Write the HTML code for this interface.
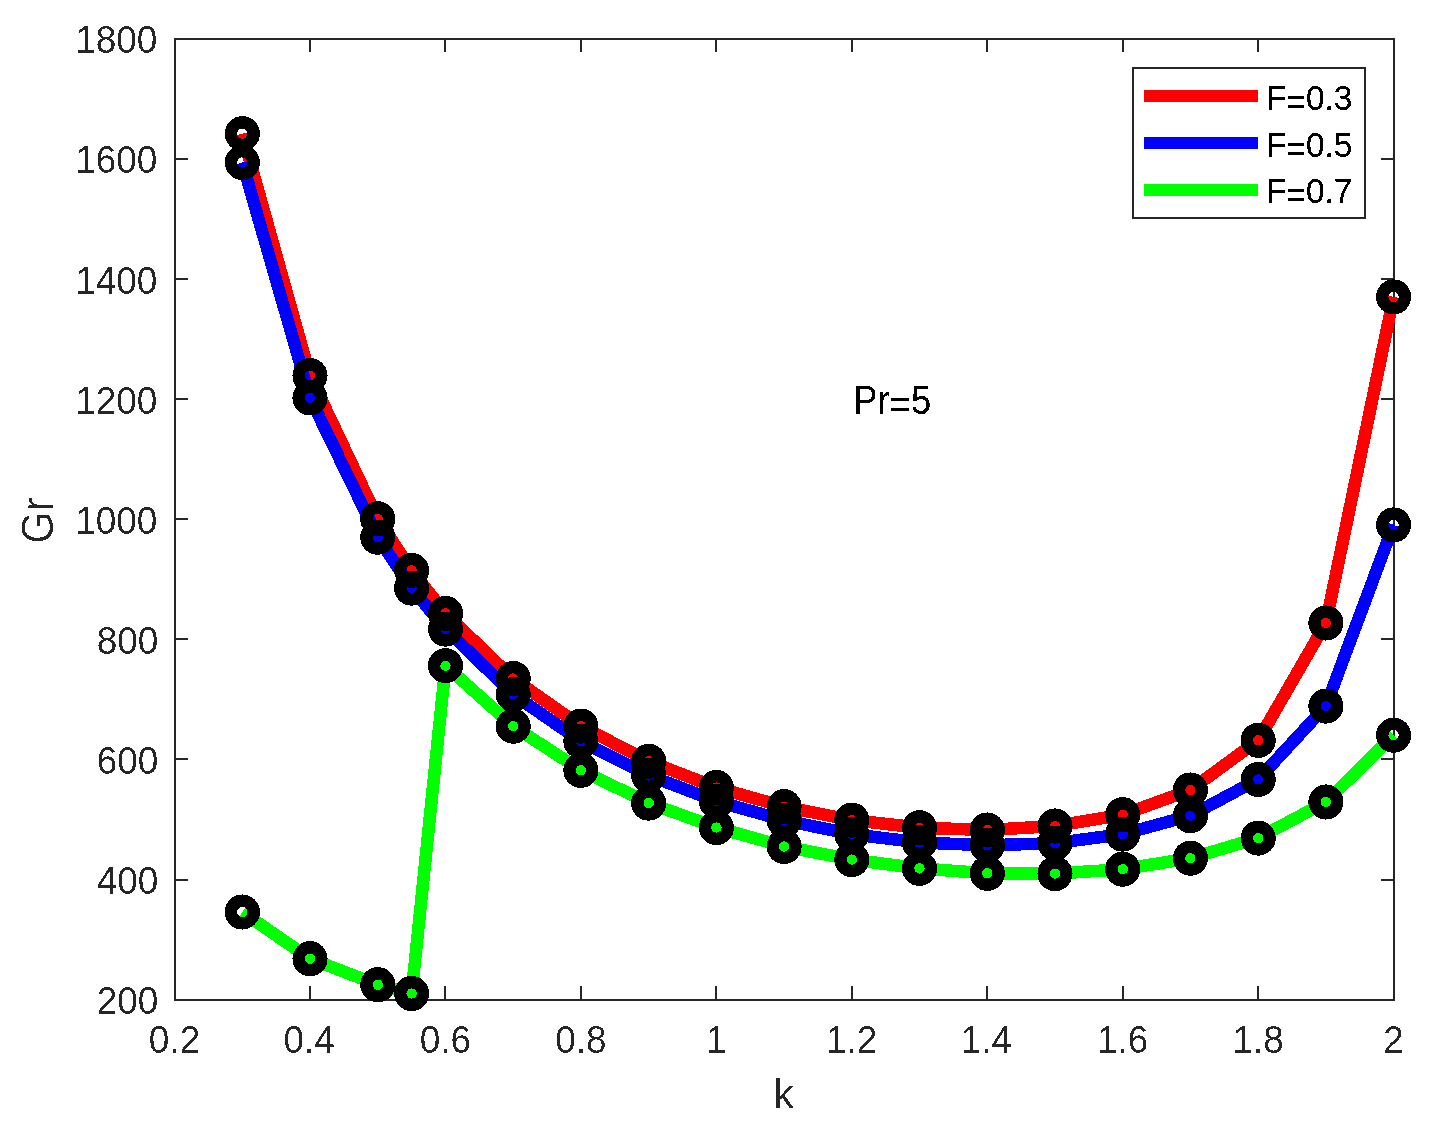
<!DOCTYPE html>
<html lang="en">
<head>
<meta charset="utf-8">
<title>Gr vs k</title>
<style>
html,body{margin:0;padding:0;background:#fff;}
body{width:1433px;height:1128px;overflow:hidden;}
svg{display:block;}
text{font-family:"Liberation Sans",Arial,Helvetica,sans-serif;}
.tick{font-size:37.5px;fill:#262626;}
.lab{font-size:41.25px;fill:#262626;}
.leg{font-size:33.75px;fill:#000;}
.ann{font-size:37.5px;fill:#000;}
</style>
</head>
<body>
<svg width="1433" height="1128" viewBox="0 0 1433 1128">
<rect x="0" y="0" width="1433" height="1128" fill="#ffffff"/>
<defs><filter id="bi" x="-5%" y="-5%" width="110%" height="110%" color-interpolation-filters="sRGB"><feComponentTransfer><feFuncA type="discrete" tableValues="0 0 0 1 1"/></feComponentTransfer></filter>
<filter id="bk" x="-5%" y="-5%" width="110%" height="110%" color-interpolation-filters="sRGB"><feComponentTransfer><feFuncA type="discrete" tableValues="0 0 1 1 1"/></feComponentTransfer></filter></defs>

<g shape-rendering="crispEdges" stroke="#262626" stroke-width="2" fill="none">
<rect x="175" y="39" width="1219" height="961"/>
<path d="M310,1000v-14M310,39v13M445,1000v-14M445,39v13M581,1000v-14M581,39v13M716,1000v-14M716,39v13M852,1000v-14M852,39v13M987,1000v-14M987,39v13M1123,1000v-14M1123,39v13M1258,1000v-14M1258,39v13M175,880h13M1394,880h-13M175,759h13M1394,759h-13M175,639h13M1394,639h-13M175,519h13M1394,519h-13M175,399h13M1394,399h-13M175,279h13M1394,279h-13M175,159h13M1394,159h-13"/>
</g>
<g filter="url(#bi)">
<text class="tick" text-anchor="middle" transform="translate(174.50,1053.30) scale(0.985,1.04)">0.2</text>
<text class="tick" text-anchor="middle" transform="translate(309.14,1053.30) scale(0.985,1.04)">0.4</text>
<text class="tick" text-anchor="middle" transform="translate(445.39,1053.30) scale(0.985,1.04)">0.6</text>
<text class="tick" text-anchor="middle" transform="translate(580.83,1053.30) scale(0.985,1.04)">0.8</text>
<text class="tick" text-anchor="middle" transform="translate(716.28,1053.30) scale(0.985,1.04)">1</text>
<text class="tick" text-anchor="middle" transform="translate(851.72,1053.30) scale(0.985,1.04)">1.2</text>
<text class="tick" text-anchor="middle" transform="translate(986.36,1053.30) scale(0.985,1.04)">1.4</text>
<text class="tick" text-anchor="middle" transform="translate(1122.61,1053.30) scale(0.985,1.04)">1.6</text>
<text class="tick" text-anchor="middle" transform="translate(1258.05,1053.30) scale(0.985,1.04)">1.8</text>
<text class="tick" text-anchor="middle" transform="translate(1393.50,1053.30) scale(0.985,1.04)">2</text>
<text class="tick" text-anchor="end" transform="translate(158.40,1013.85) scale(0.985,1.04)">200</text>
<text class="tick" text-anchor="end" transform="translate(158.40,893.85) scale(0.985,1.04)">400</text>
<text class="tick" text-anchor="end" transform="translate(158.40,773.85) scale(0.985,1.04)">600</text>
<text class="tick" text-anchor="end" transform="translate(158.40,653.85) scale(0.985,1.04)">800</text>
<text class="tick" text-anchor="end" transform="translate(157.40,533.85) scale(0.985,1.04)">1000</text>
<text class="tick" text-anchor="end" transform="translate(157.40,413.85) scale(0.985,1.04)">1200</text>
<text class="tick" text-anchor="end" transform="translate(157.40,293.85) scale(0.985,1.04)">1400</text>
<text class="tick" text-anchor="end" transform="translate(157.40,172.85) scale(0.985,1.04)">1600</text>
<text class="tick" text-anchor="end" transform="translate(157.40,52.85) scale(0.985,1.04)">1800</text>
<text class="lab" text-anchor="middle" transform="translate(783.50,1108.00)">k</text>
<text class="lab" text-anchor="middle" transform="translate(53.00,520.50) rotate(-90) scale(1.0,1.14)">Gr</text>
</g>
<g shape-rendering="crispEdges" fill="none" stroke-width="12.5" stroke-linejoin="round" stroke-linecap="butt">
<polyline stroke="#ff0000" points="242.3,133.7 310.0,375.6 377.8,518.8 411.6,570.4 445.5,613.4 513.2,678.5 580.9,726.1 648.7,761.3 716.4,787.5 784.1,806.7 851.8,820.1 919.5,827.7 987.3,830.0 1055.0,826.0 1122.7,814.7 1190.4,790.0 1258.2,740.3 1325.9,623.0 1393.6,296.9"/>
<polyline stroke="#0000ff" points="242.3,162.5 310.0,397.9 377.8,537.2 411.6,588.1 445.5,629.1 513.2,694.4 580.9,741.3 648.7,775.4 716.4,801.3 784.1,820.3 851.8,834.2 919.5,842.5 987.3,845.3 1055.0,843.2 1122.7,834.1 1190.4,815.7 1258.2,779.4 1325.9,706.1 1393.6,524.9"/>
<polyline stroke="#00ff00" points="242.3,912.0 310.0,958.7 377.8,984.7 411.6,993.5 445.5,665.7 513.2,726.2 580.9,770.3 648.7,803.1 716.4,827.5 784.1,846.5 851.8,859.6 919.5,868.4 987.3,873.3 1055.0,873.6 1122.7,869.2 1190.4,858.2 1258.2,838.1 1325.9,802.0 1393.6,735.2"/>
</g>
<g shape-rendering="crispEdges" fill="none" stroke="#000" stroke-width="12.4">
<circle cx="242.3" cy="133.7" r="11.35"/>
<circle cx="310.0" cy="375.6" r="11.35"/>
<circle cx="377.8" cy="518.8" r="11.35"/>
<circle cx="411.6" cy="570.4" r="11.35"/>
<circle cx="445.5" cy="613.4" r="11.35"/>
<circle cx="513.2" cy="678.5" r="11.35"/>
<circle cx="580.9" cy="726.1" r="11.35"/>
<circle cx="648.7" cy="761.3" r="11.35"/>
<circle cx="716.4" cy="787.5" r="11.35"/>
<circle cx="784.1" cy="806.7" r="11.35"/>
<circle cx="851.8" cy="820.1" r="11.35"/>
<circle cx="919.5" cy="827.7" r="11.35"/>
<circle cx="987.3" cy="830.0" r="11.35"/>
<circle cx="1055.0" cy="826.0" r="11.35"/>
<circle cx="1122.7" cy="814.7" r="11.35"/>
<circle cx="1190.4" cy="790.0" r="11.35"/>
<circle cx="1258.2" cy="740.3" r="11.35"/>
<circle cx="1325.9" cy="623.0" r="11.35"/>
<circle cx="1393.6" cy="296.9" r="11.35"/>
<circle cx="242.3" cy="162.5" r="11.35"/>
<circle cx="310.0" cy="397.9" r="11.35"/>
<circle cx="377.8" cy="537.2" r="11.35"/>
<circle cx="411.6" cy="588.1" r="11.35"/>
<circle cx="445.5" cy="629.1" r="11.35"/>
<circle cx="513.2" cy="694.4" r="11.35"/>
<circle cx="580.9" cy="741.3" r="11.35"/>
<circle cx="648.7" cy="775.4" r="11.35"/>
<circle cx="716.4" cy="801.3" r="11.35"/>
<circle cx="784.1" cy="820.3" r="11.35"/>
<circle cx="851.8" cy="834.2" r="11.35"/>
<circle cx="919.5" cy="842.5" r="11.35"/>
<circle cx="987.3" cy="845.3" r="11.35"/>
<circle cx="1055.0" cy="843.2" r="11.35"/>
<circle cx="1122.7" cy="834.1" r="11.35"/>
<circle cx="1190.4" cy="815.7" r="11.35"/>
<circle cx="1258.2" cy="779.4" r="11.35"/>
<circle cx="1325.9" cy="706.1" r="11.35"/>
<circle cx="1393.6" cy="524.9" r="11.35"/>
<circle cx="242.3" cy="912.0" r="11.35"/>
<circle cx="310.0" cy="958.7" r="11.35"/>
<circle cx="377.8" cy="984.7" r="11.35"/>
<circle cx="411.6" cy="993.5" r="11.35"/>
<circle cx="445.5" cy="665.7" r="11.35"/>
<circle cx="513.2" cy="726.2" r="11.35"/>
<circle cx="580.9" cy="770.3" r="11.35"/>
<circle cx="648.7" cy="803.1" r="11.35"/>
<circle cx="716.4" cy="827.5" r="11.35"/>
<circle cx="784.1" cy="846.5" r="11.35"/>
<circle cx="851.8" cy="859.6" r="11.35"/>
<circle cx="919.5" cy="868.4" r="11.35"/>
<circle cx="987.3" cy="873.3" r="11.35"/>
<circle cx="1055.0" cy="873.6" r="11.35"/>
<circle cx="1122.7" cy="869.2" r="11.35"/>
<circle cx="1190.4" cy="858.2" r="11.35"/>
<circle cx="1258.2" cy="838.1" r="11.35"/>
<circle cx="1325.9" cy="802.0" r="11.35"/>
<circle cx="1393.6" cy="735.2" r="11.35"/>
</g>
<g shape-rendering="crispEdges">
<rect x="1133" y="68" width="232" height="150" fill="#fff" stroke="#262626" stroke-width="2"/>
<rect x="1144" y="90" width="114" height="12" fill="#ff0000"/>
<rect x="1144" y="137" width="114" height="12" fill="#0000ff"/>
<rect x="1144" y="184" width="114" height="12" fill="#00ff00"/>
</g>
<g filter="url(#bk)">
<text class="leg" text-anchor="start" transform="translate(1266.00,110.00) scale(0.99,1.065)">F<tspan dy="4.2">=</tspan><tspan dy="-4.2">0.3</tspan></text>
<text class="leg" text-anchor="start" transform="translate(1266.00,157.00) scale(0.99,1.065)">F<tspan dy="4.2">=</tspan><tspan dy="-4.2">0.5</tspan></text>
<text class="leg" text-anchor="start" transform="translate(1266.00,203.00) scale(0.99,1.065)">F<tspan dy="4.2">=</tspan><tspan dy="-4.2">0.7</tspan></text>
<text class="ann" text-anchor="start" transform="translate(853.00,414.00) scale(0.975,1.06)">Pr<tspan dy="4.2">=</tspan><tspan dy="-4.2">5</tspan></text>
</g>
</svg>
</body>
</html>
